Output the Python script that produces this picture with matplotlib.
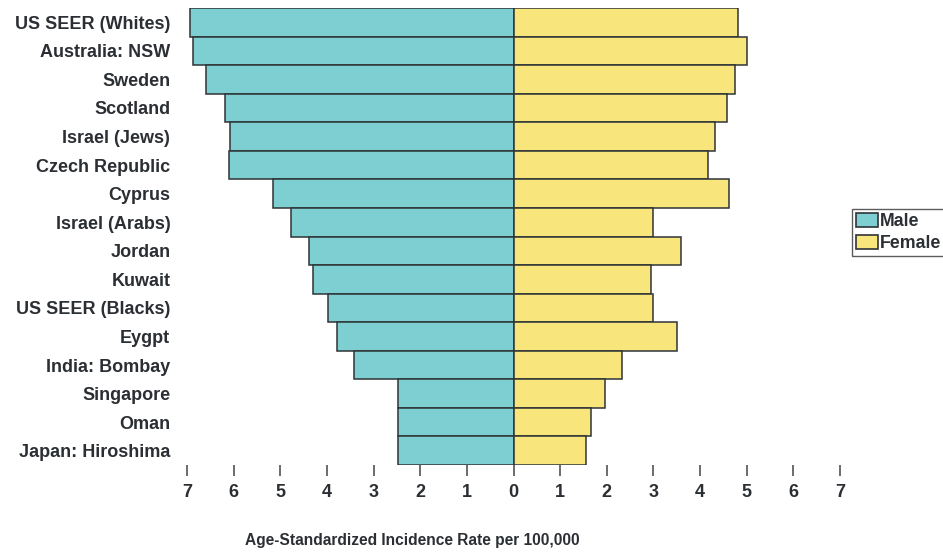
import matplotlib
matplotlib.use("Agg")
import matplotlib.pyplot as plt
import matplotlib.patches as patches
import numpy as np

# Datos
paises = [
    "US SEER (Whites)", "Australia: NSW", "Sweden", "Scotland", "Israel (Jews)",
    "Czech Republic", "Cyprus", "Israel (Arabs)", "Jordan", "Kuwait",
    "US SEER (Blacks)", "Eygpt", "India: Bombay", "Singapore", "Oman",
    "Japan: Hiroshima",
]
hombres = [6.94, 6.88, 6.60, 6.19, 6.08, 6.10, 5.16, 4.76, 4.39, 4.29,
           3.98, 3.79, 3.42, 2.47, 2.47, 2.47]
mujeres = [4.81, 5.01, 4.74, 4.58, 4.31, 4.16, 4.62, 3.00, 3.60, 2.94,
           2.99, 3.51, 2.32, 1.97, 1.66, 1.56]
ticks = [-7, -6, -5, -4, -3, -2, -1, 0, 1, 2, 3, 4, 5, 6, 7]

color_h = "#7dcfd1"
color_m = "#f8e57c"
borde = "#2f3437"
texto = "#2b2f33"
fuente = ["Liberation Sans", "DejaVu Sans"]

W, H = 943, 554
fig = plt.figure(figsize=(W / 100, H / 100), dpi=100)
ax = fig.add_axes([187 / W, 1 - 465 / H, (840 - 187) / W, (465 - 8) / H])

y = np.arange(len(paises))
ax.barh(y, [-v for v in hombres], height=1.0, color=color_h, edgecolor=borde, linewidth=1.1)
ax.barh(y, mujeres, height=1.0, color=color_m, edgecolor=borde, linewidth=1.1)

ax.set_xlim(-7, 7)
ax.set_ylim(len(paises) - 0.5, -0.5)

ax.set_yticks(y)
ax.set_yticklabels(paises, fontsize=13, fontweight="bold", color=texto, family=fuente)
ax.tick_params(axis="y", length=0, pad=12)

ax.set_xticks(ticks)
ax.set_xticklabels([str(abs(t)) for t in ticks], fontsize=13, fontweight="bold",
                   color=texto, family=fuente)
ax.tick_params(axis="x", length=8, width=1.1, color="#444444", pad=6, direction="out")

for s in ax.spines.values():
    s.set_visible(False)

fig.text(412 / W, 1 - 540 / H, "Age-Standardized Incidence Rate per 100,000",
         ha="center", va="center", fontsize=11.2, fontweight="bold", color=texto,
         family=fuente)

# Leyenda
h1 = patches.Patch(facecolor=color_h, edgecolor=borde, linewidth=1.2)
h2 = patches.Patch(facecolor=color_m, edgecolor=borde, linewidth=1.2)
leg = fig.legend([h1, h2], ["Male", "Female"], loc="upper left",
                 bbox_to_anchor=(852 / W, 1 - 209 / H), frameon=True, fancybox=False,
                 prop={"family": fuente, "weight": "bold", "size": 12.8},
                 handlelength=1.2, handleheight=0.8, handletextpad=0.1,
                 borderpad=0.25, labelspacing=0.25, borderaxespad=0)
leg.get_frame().set_edgecolor("#333333")
leg.get_frame().set_linewidth(1.0)
for t in leg.get_texts():
    t.set_color(texto)

fig.savefig("out.png", dpi=100)
